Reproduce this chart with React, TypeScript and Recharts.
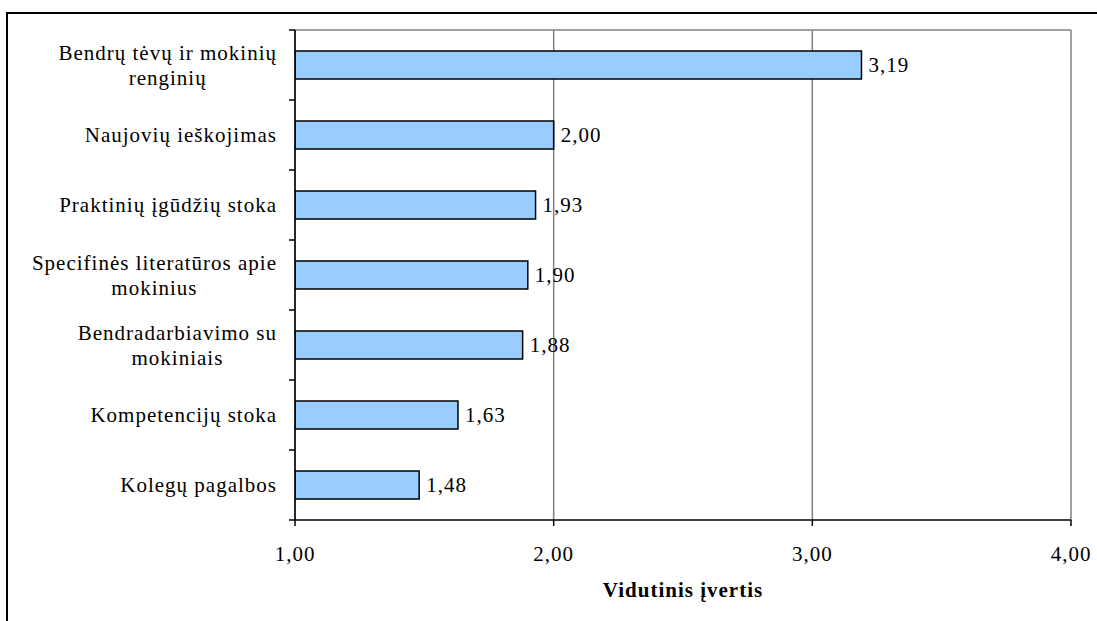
import React from 'react';
import { BarChart, Bar, XAxis, YAxis, CartesianGrid, LabelList } from 'recharts';

const FONT = '"Liberation Serif", "Times New Roman", Times, serif';
const FS = 21;
const LS = 1;

const categories = [
  'Bendrų tėvų ir mokinių renginių',
  'Naujovių ieškojimas',
  'Praktinių įgūdžių stoka',
  'Specifinės literatūros apie mokinius',
  'Bendradarbiavimo su mokiniais',
  'Kompetencijų stoka',
  'Kolegų pagalbos',
];
const categoryLines: string[][] = [
  ['Bendrų tėvų ir mokinių', 'renginių'],
  ['Naujovių ieškojimas'],
  ['Praktinių įgūdžių stoka'],
  ['Specifinės literatūros apie', 'mokinius'],
  ['Bendradarbiavimo su', 'mokiniais'],
  ['Kompetencijų stoka'],
  ['Kolegų pagalbos'],
];
const values = [3.19, 2.0, 1.93, 1.9, 1.88, 1.63, 1.48];
const xTicks = [1, 2, 3, 4];
const xTitle = 'Vidutinis įvertis';

const data = categories.map((name, i) => ({ name, value: values[i] }));

const W = 1097;
const H = 621;
const MARGIN = { top: 30, right: 26, bottom: 0, left: 0 };
const YAXIS_W = 295;
const XAXIS_H = 101;

const fmt = (v: number) => v.toFixed(2).replace('.', ',');

let ctx: CanvasRenderingContext2D | null = null;
const measure = (s: string) => {
  if (!ctx && typeof document !== 'undefined') {
    ctx = document.createElement('canvas').getContext('2d');
  }
  if (!ctx) return s.length * FS * 0.45 + s.length * LS;
  ctx.font = `${FS}px ${FONT}`;
  return ctx.measureText(s).width + LS * s.length;
};

const YTick = (props: any) => {
  const { y, payload, index, visibleTicksCount } = props;
  const axisX = MARGIN.left + YAXIS_W;
  const plotH = H - MARGIN.top - MARGIN.bottom - XAXIS_H;
  const half = payload && typeof payload.offset === 'number' && payload.offset > 0
    ? payload.offset
    : plotH / categories.length / 2;
  const idx = categories.indexOf(payload.value);
  const lines = idx >= 0 ? categoryLines[idx] : [String(payload.value)];
  const maxW = Math.max(...lines.map(measure));
  const right = axisX - 18;
  const cx = right - maxW / 2;
  const lh = 25;
  const first = y - ((lines.length - 1) * lh) / 2 + 7.4;
  return (
    <g>
      <line x1={axisX - 6} x2={axisX} y1={y - half} y2={y - half} stroke="#000" strokeWidth={1.5} />
      {index === visibleTicksCount - 1 && (
        <line x1={axisX - 6} x2={axisX} y1={y + half} y2={y + half} stroke="#000" strokeWidth={1.5} />
      )}
      <text
        x={cx}
        y={first}
        textAnchor="middle"
        fontFamily={FONT}
        fontSize={FS}
        fill="#000"
        style={{ letterSpacing: `${LS}px` }}
      >
        {lines.map((l, i) => (
          <tspan key={i} x={cx} y={first + i * lh}>
            {l}
          </tspan>
        ))}
      </text>
    </g>
  );
};

const XTick = (props: any) => {
  const { x, y, payload } = props;
  return (
    <text
      x={x}
      y={y}
      dy={15}
      textAnchor="middle"
      fontFamily={FONT}
      fontSize={FS}
      fill="#000"
      style={{ letterSpacing: `${LS}px` }}
    >
      {fmt(Number(payload.value))}
    </text>
  );
};

const ValueLabel = (props: any) => {
  const { x, y, width, height, value } = props;
  return (
    <text
      x={Number(x) + Number(width) + 7}
      y={Number(y) + Number(height) / 2}
      dy={7.4}
      textAnchor="start"
      fontFamily={FONT}
      fontSize={FS}
      fill="#000"
      style={{ letterSpacing: `${LS}px` }}
    >
      {fmt(Number(value))}
    </text>
  );
};

export default function App() {
  return (
    <div style={{ position: 'relative', width: W, height: H, background: '#fff', overflow: 'hidden' }}>
      <style>{`html, body { margin: 0; padding: 0; background: #fff; }`}</style>
      <div style={{ position: 'absolute', left: 0, top: 0 }}>
        <BarChart width={W} height={H} data={data} layout="vertical" margin={MARGIN}>
          <CartesianGrid
            stroke="#808080"
            strokeWidth={1.5}
            vertical={true}
            horizontal={true}
            horizontalCoordinatesGenerator={(args: any) => [args.offset.top]}
          />
          <XAxis
            type="number"
            domain={[1, 4]}
            ticks={xTicks}
            allowDataOverflow
            height={XAXIS_H}
            axisLine={{ stroke: '#000', strokeWidth: 1.5 }}
            tickLine={{ stroke: '#000', strokeWidth: 1.5 }}
            tickSize={6}
            tickMargin={20}
            tick={<XTick />}
            label={{
              value: xTitle,
              position: 'insideBottom',
              offset: 24,
              style: {
                fontFamily: FONT,
                fontSize: FS,
                fontWeight: 'bold',
                fill: '#000',
                letterSpacing: `${LS}px`,
              },
            }}
          />
          <YAxis
            type="category"
            dataKey="name"
            width={YAXIS_W}
            axisLine={{ stroke: '#000', strokeWidth: 1.5 }}
            tickLine={false}
            tick={<YTick />}
            interval={0}
          />
          <Bar
            dataKey="value"
            barSize={28}
            fill="#99CCFF"
            stroke="#000"
            strokeWidth={1.5}
            isAnimationActive={false}
          >
            <LabelList dataKey="value" content={<ValueLabel />} />
          </Bar>
        </BarChart>
      </div>
      <div style={{ position: 'absolute', left: 6, top: 12, width: W - 6, height: 2, background: '#000' }} />
      <div style={{ position: 'absolute', left: 6, top: 12, width: 2, height: H - 12, background: '#000' }} />
    </div>
  );
}
